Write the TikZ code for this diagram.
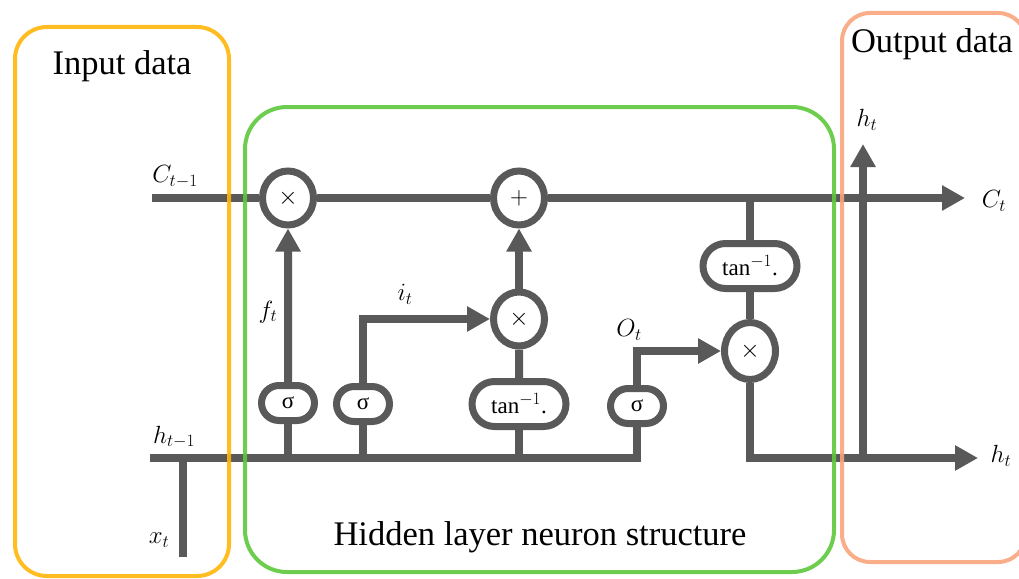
\documentclass[tikz,border=0pt]{standalone}
\usepackage{fontspec}
\setmainfont{Liberation Serif}
\usetikzlibrary{arrows.meta,shapes.misc,shapes.geometric}
\definecolor{wirec}{HTML}{595959}
\definecolor{inboxc}{HTML}{FFB60A}
\definecolor{hidboxc}{HTML}{5DC83C}
\definecolor{outboxc}{HTML}{F8A57C}
\begin{document}
\begin{tikzpicture}[x=1pt,y=-1pt,
  wire/.style={draw=wirec,line width=8pt},
  arr/.style={wire,-{Triangle[length=23pt,width=24pt]}},
  op/.style={ellipse,draw=wirec,line width=7pt,fill=white,minimum width=51pt,minimum height=54pt,inner sep=0pt,font=\fontsize{25}{25}\selectfont},
  gate/.style={rounded rectangle,draw=wirec,line width=7pt,fill=white,minimum width=53pt,minimum height=35pt,inner sep=0pt,font=\fontsize{23}{23}\selectfont},
  act/.style={gate,minimum width=94pt,minimum height=45pt,font=\fontsize{23}{23}\selectfont},
  lbl/.style={font=\fontsize{24}{24}\selectfont,inner sep=0pt},
  title/.style={font=\fontsize{34.5}{34.5}\selectfont,inner sep=0pt},
  region/.style={line width=4pt,opacity=0.9}
]
\useasboundingbox (0,0) rectangle (1019,578);
\clip (0,0) rectangle (1019,578);

% operation nodes
\node[op] (mf) at (288,198) {$\times$};
\node[op] (add) at (519,198) {$+$};
\node[op] (mi) at (519,319) {$\times$};
\node[op,minimum height=57pt] (mo) at (750,351) {$\times$};
\node[gate] (sf) at (288,403) {σ};
\node[gate] (si) at (363,404) {σ};
\node[act] (tn) at (519,404) {tan$^{-1}$.};
\node[gate] (so) at (637,406) {σ};
\node[act] (tc) at (750,266) {tan$^{-1}$.};

% free ends
\coordinate (cin) at (152,198);
\coordinate (cout) at (965,198);
\coordinate (ctap) at (750,198);
\coordinate (hin) at (150,458);
\coordinate (hend) at (637,458);
\coordinate (hout) at (978,458);
\coordinate (hup0) at (863,458);
\coordinate (hup) at (863,144);
\coordinate (xb) at (183,557);

% wires
\draw[wire] (cin) -- (mf);
\draw[wire] (mf) -- (add);
\draw[arr] (add) -- (cout);
\draw[wire] (ctap) -- (tc);
\draw[wire] (tc) -- (mo);
\draw[wire] (hin) -- (hend) -- (so);
\draw[wire] (xb) -- (xb |- hin);
\draw[wire] (sf) -- (sf |- hin);
\draw[wire] (si) -- (si |- hin);
\draw[wire] (tn) -- (tn |- hin);
\draw[arr] (sf) -- (mf);
\draw[arr] (si) |- (mi);
\draw[wire] (tn) -- (mi);
\draw[arr] (mi) -- (add);
\draw[arr] (so) |- (mo);
\draw[arr] (mo) |- (hout);
\draw[arr] (hup0) -- (hup);

% labels
\node[lbl] at (175,177) {$C_{t-1}$};
\node[lbl] at (174,437) {$h_{t-1}$};
\node[lbl] at (159,540) {$x_t$};
\node[lbl] at (268,312) {$f_t$};
\node[lbl] at (405,294) {$i_t$};
\node[lbl] at (629,330) {$O_t$};
\node[lbl] at (994,201) {$C_t$};
\node[lbl] at (1001,456) {$h_t$};
\node[lbl] at (867,120) {$h_t$};

% regions
\draw[region,draw=inboxc,rounded corners=32pt] (15,27) rectangle (229,576);
\draw[region,draw=hidboxc,rounded corners=42pt] (245,107) rectangle (834,572);
\draw[region,draw=outboxc,rounded corners=28pt] (842,13) rectangle (1026,562);

\node[title] at (122,66) {Input data};
\node[title] at (932,44) {Output data};
\node[title] at (540,537) {Hidden layer neuron structure};
\end{tikzpicture}
\end{document}
